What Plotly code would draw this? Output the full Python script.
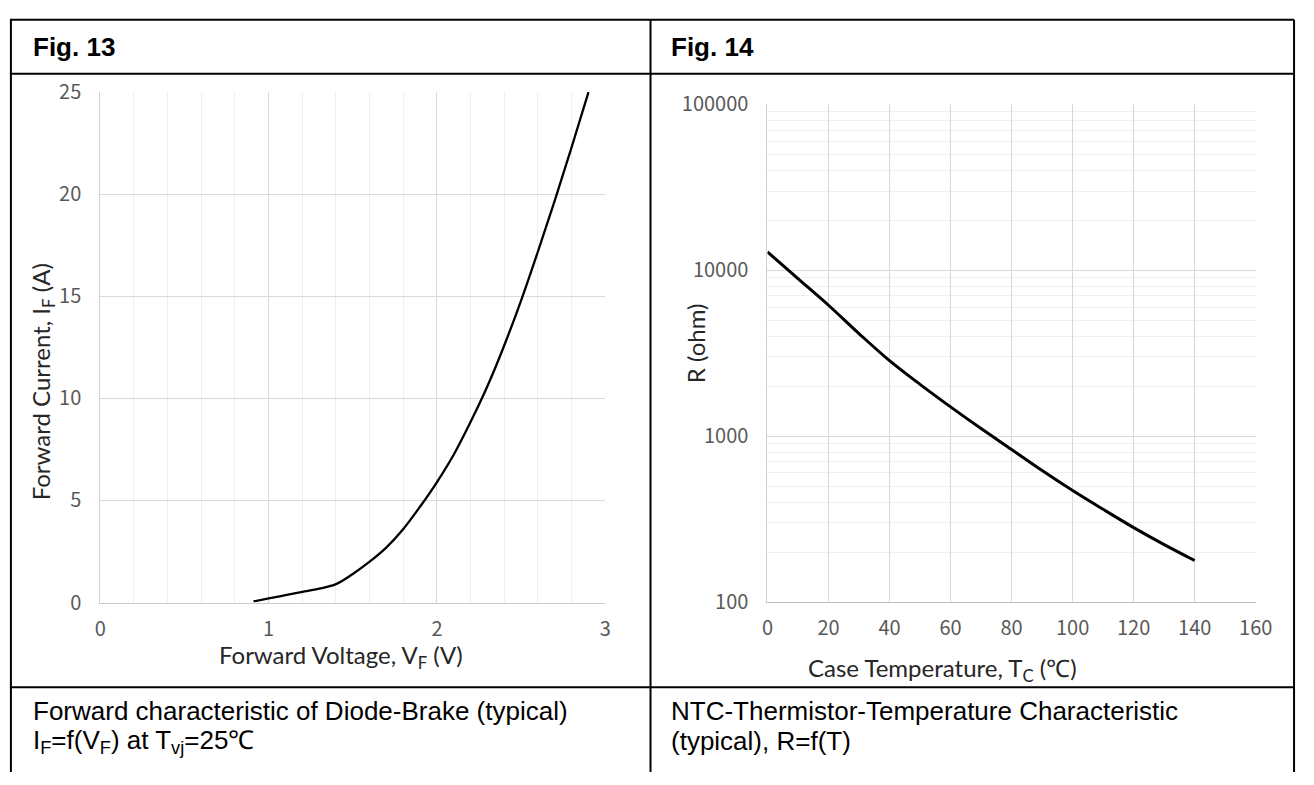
import plotly.graph_objects as go

W, H = 1314, 785

# ---------------- data ----------------
# Fig. 13 : forward characteristic of brake diode
vf_volts = [0.91, 1.0, 1.1, 1.2, 1.3, 1.4, 1.5, 1.6, 1.7, 1.8, 1.9, 2.0, 2.1, 2.2,
            2.3, 2.4, 2.5, 2.6, 2.7, 2.8, 2.9]
if_amps = [0.05, 0.2, 0.36, 0.52, 0.68, 0.9, 1.4, 2.0, 2.7, 3.6, 4.7, 5.9, 7.25, 8.85,
           10.6, 12.6, 14.8, 17.2, 19.7, 22.3, 25.0]
fig13_xticks = [0, 1, 2, 3]
fig13_yticks = [0, 5, 10, 15, 20, 25]

# Fig. 14 : NTC thermistor characteristic
temp_c = [0, 10, 20, 30, 40, 50, 60, 70, 80, 90, 100, 110, 120, 130, 140]
r_ohm = [12900, 8900, 6150, 4150, 2850, 2050, 1500, 1110, 830, 620, 470, 362, 281, 222, 178]
fig14_xticks = [0, 20, 40, 60, 80, 100, 120, 140, 160]
fig14_yticks = [100, 1000, 10000, 100000]
fig14_minor = [m * 10 ** d for d in (2, 3, 4) for m in range(2, 10)]

# ---------------- helpers ----------------
def px(x):
    return x / W


def py(y):
    return 1 - y / H


TICK_FONT = dict(family="Noto Sans CJK KR, Roboto, sans-serif", size=20, color="#595959")
TITLE_FONT = dict(family="Lato, Open Sans, sans-serif", size=24, color="#262626")
GRID = "#d9d9d9"
MINOR = "#efefef"

fig = go.Figure()
fig.add_trace(go.Scatter(x=vf_volts, y=if_amps, mode="lines",
                         line=dict(color="black", width=2.3, shape="spline"),
                         xaxis="x", yaxis="y", hoverinfo="skip"))
fig.add_trace(go.Scatter(x=temp_c, y=r_ohm, mode="lines",
                         line=dict(color="black", width=3, shape="spline"),
                         xaxis="x2", yaxis="y2", hoverinfo="skip"))

fig.update_layout(
    width=W, height=H, margin=dict(l=0, r=0, t=0, b=0),
    paper_bgcolor="white", plot_bgcolor="white", showlegend=False,
    xaxis=dict(domain=[px(96), px(610)], range=[0, 3], anchor="y",
               tickmode="array", tickvals=fig13_xticks,
               showgrid=True, gridcolor=GRID, gridwidth=1, zeroline=False,
               minor=dict(dtick=0.2, tick0=0, showgrid=True, gridcolor=MINOR, gridwidth=1),
               showline=True, linecolor="#cccccc", linewidth=1, mirror=False,
               ticks="outside", ticklen=8, tickcolor="rgba(0,0,0,0)",
               tickfont=TICK_FONT, fixedrange=True),
    yaxis=dict(domain=[py(609), py(79)], range=[0, 25], anchor="x",
               tickmode="array", tickvals=fig13_yticks,
               showgrid=True, gridcolor=GRID, gridwidth=1, zeroline=False,
               showline=True, linecolor="#d0d0d0", linewidth=1,
               ticks="outside", ticklen=14, tickcolor="rgba(0,0,0,0)",
               tickfont=TICK_FONT, fixedrange=True),
    xaxis2=dict(domain=[px(775), px(1272)], range=[0, 160], anchor="y2",
                tickmode="array", tickvals=fig14_xticks,
                showgrid=True, gridcolor=GRID, gridwidth=1, zeroline=False,
                showline=True, linecolor="#bfbfbf", linewidth=1,
                ticks="outside", ticklen=8, tickcolor="rgba(0,0,0,0)",
                tickfont=TICK_FONT, fixedrange=True),
    yaxis2=dict(domain=[py(608.5), py(91.7)], type="log", range=[2, 5], anchor="x2",
                tickmode="array", tickvals=fig14_yticks,
                ticktext=[str(v) for v in fig14_yticks],
                showgrid=True, gridcolor=GRID, gridwidth=1, zeroline=False,
                minor=dict(tickmode="array", tickvals=fig14_minor, showgrid=True,
                           gridcolor=MINOR, gridwidth=1),
                showline=True, linecolor="#d0d0d0", linewidth=1,
                ticks="outside", ticklen=14, tickcolor="rgba(0,0,0,0)",
                tickfont=TICK_FONT, fixedrange=True),
)

# ---------------- table frame ----------------
LINE = dict(color="black", width=2)
frame = [
    (4, 4, 1311, 4),      # top
    (4, 60, 1311, 60),    # header bottom
    (4, 697, 1311, 697),  # plot row bottom
    (5, 4, 5, 785),       # left
    (656, 4, 656, 785),   # divider
    (1311, 4, 1311, 785), # right
]
for x0, y0, x1, y1 in frame:
    fig.add_shape(type="line", xref="paper", yref="paper",
                  x0=px(x0), y0=py(y0), x1=px(x1), y1=py(y1), line=LINE)

# ---------------- texts ----------------
HEAD_FONT = dict(family="Liberation Sans, Arial, sans-serif", size=26, color="black")
CAP_FONT = dict(family="Liberation Sans, Arial, sans-serif", size=26, color="black")


def note(text, x, y, font, xanchor="left", yanchor="middle", angle=0):
    fig.add_annotation(text=text, x=px(x), y=py(y), xref="paper", yref="paper",
                       showarrow=False, font=font, xanchor=xanchor, yanchor=yanchor,
                       textangle=angle, align="left")


note("<b>Fig. 13</b>", 25, 32, HEAD_FONT)
note("<b>Fig. 14</b>", 675, 32, HEAD_FONT)

note("Forward Voltage, V<sub>F</sub> (V)", 341, 665, TITLE_FONT, xanchor="center")
note("Forward Current, I<sub>F</sub> (A)", 38, 380, TITLE_FONT, xanchor="center", angle=-90)
note("Case Temperature, T<sub>C</sub> (℃)", 953, 679, TITLE_FONT, xanchor="center")
note("R (ohm)", 702, 340, TITLE_FONT, xanchor="center", angle=-90)

note("Forward characteristic of Diode-Brake (typical)", 25, 722, CAP_FONT)
note("I<sub>F</sub>=f(V<sub>F</sub>) at T<sub>vj</sub>=25℃", 25, 753, CAP_FONT)
note("NTC-Thermistor-Temperature Characteristic", 675, 722, CAP_FONT)
note("(typical), R=f(T)", 675, 753, CAP_FONT)

fig.write_html(
    "out.html",
    config={"displayModeBar": False, "staticPlot": True},
    post_script="document.body.style.margin='0px';"
                "document.documentElement.style.overflow='hidden';",
)
